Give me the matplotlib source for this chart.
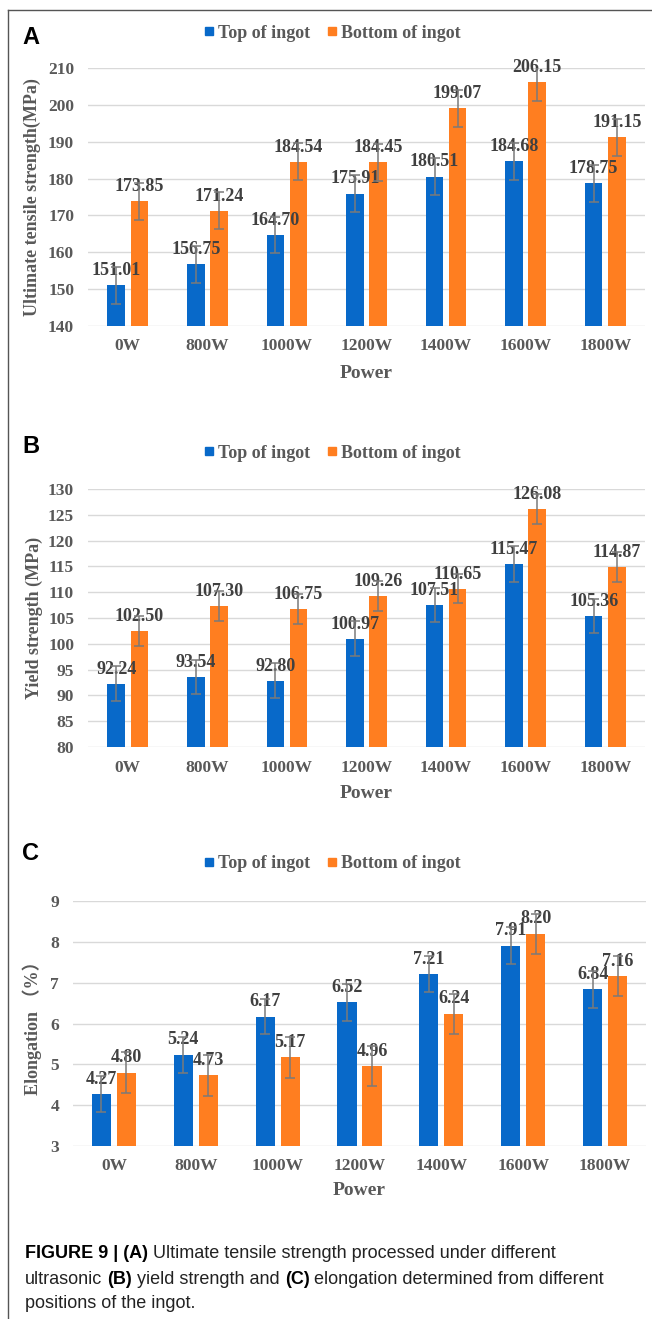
import numpy as np
import matplotlib.pyplot as plt
from matplotlib.lines import Line2D

powers = ["0W", "800W", "1000W", "1200W", "1400W", "1600W", "1800W"]

uts_top = [151.01, 156.75, 164.70, 175.91, 180.51, 184.68, 178.75]
uts_bottom = [173.85, 171.24, 184.54, 184.45, 199.07, 206.15, 191.15]
uts_top_err = [5.0, 5.0, 5.0, 5.0, 5.0, 5.0, 5.0]
uts_bottom_err = [5.0, 5.0, 5.0, 5.0, 5.0, 5.0, 5.0]

ys_top = [92.24, 93.54, 92.80, 100.97, 107.51, 115.47, 105.36]
ys_bottom = [102.50, 107.30, 106.75, 109.26, 110.65, 126.08, 114.87]
ys_top_err = [3.4, 3.3, 3.4, 3.4, 3.3, 3.5, 3.3]
ys_bottom_err = [2.9, 2.9, 2.9, 2.9, 2.8, 2.9, 2.9]

el_top = [4.27, 5.24, 6.17, 6.52, 7.21, 7.91, 6.84]
el_bottom = [4.80, 4.73, 5.17, 4.96, 6.24, 8.20, 7.16]
el_top_err = [0.44, 0.44, 0.42, 0.45, 0.44, 0.45, 0.45]
el_bottom_err = [0.49, 0.50, 0.50, 0.49, 0.49, 0.49, 0.49]

series_names = ["Top of ingot", "Bottom of ingot"]

BLUE = "#0869C9"
ORANGE = "#FF7E20"
GREY = "#595959"

plt.rcParams["font.family"] = ["Liberation Serif", "Noto Sans CJK SC"]
plt.rcParams["font.weight"] = "bold"
plt.rcParams["axes.labelweight"] = "bold"

W, H = 652, 1319
fig = plt.figure(figsize=(W / 100, H / 100), dpi=100)


def px_axes(left, right, top, bottom):
    return fig.add_axes([left / W, 1 - bottom / H, (right - left) / W, (bottom - top) / H])


def panel(ax, top, bottom, top_err, bottom_err, lo, hi, step, ylabel, ylab_x, bw):
    x = np.arange(len(powers))
    off = bw / 2 + 0.035
    ekw = dict(ecolor="#7a7a7a", elinewidth=1.1, capsize=3.5, capthick=1.1, zorder=5)
    ax.bar(x - off, top, bw, color=BLUE, yerr=top_err, error_kw=ekw, zorder=2)
    ax.bar(x + off, bottom, bw, color=ORANGE, yerr=bottom_err, error_kw=ekw, zorder=2)
    for xs, vals in ((x - off, top), (x + off, bottom)):
        for xi, v in zip(xs, vals):
            ax.annotate(f"{v:.2f}", (xi, v), xytext=(0, 4.5), textcoords="offset points",
                        ha="center", va="bottom", size=13, color="#404040", zorder=4,
                        annotation_clip=False)
    ax.set_xlim(-0.5, len(powers) - 0.5)
    ax.set_ylim(lo, hi)
    ax.set_yticks(np.arange(lo, hi + step / 2, step))
    ax.set_xticks(x)
    ax.set_xticklabels(powers)
    ax.yaxis.grid(True, color="#d9d9d9", lw=1)
    ax.set_axisbelow(True)
    for s in ax.spines.values():
        s.set_visible(False)
    ax.tick_params(length=0, labelsize=12.5, labelcolor=GREY)
    ax.tick_params(axis="y", pad=10)
    ax.tick_params(axis="x", pad=9)
    ax.set_xlabel("Power", size=14, color=GREY)
    ax.xaxis.set_label_coords(0.5, -47 / 258)
    ax.xaxis.label.set_va("center")
    ax.set_ylabel(ylabel, size=13, color=GREY)
    ax.yaxis.set_label_coords(ylab_x, 0.5)
    ax.yaxis.label.set_va("center")


def legend_and_letter(letter, y_letter, y_leg):
    fig.text(22 / W, 1 - y_letter / H, letter, family="Liberation Sans", weight="bold",
             size=17, va="center", ha="left", color="black")
    handles = [Line2D([], [], marker="s", ls="", color=c, markersize=5.5) for c in (BLUE, ORANGE)]
    fig.legend(handles, series_names, loc="center", bbox_to_anchor=(332 / W, 1 - y_leg / H),
               ncol=2, frameon=False, handlelength=0.6, handletextpad=0.2,
               columnspacing=0.9, labelcolor=GREY, prop=dict(size=13, weight="bold"))


axA = px_axes(88, 645, 68, 326)
panel(axA, uts_top, uts_bottom, uts_top_err, uts_bottom_err, 140, 210, 10,
      "Ultimate tensile strength(MPa)", -56 / 557, 0.22)
legend_and_letter("A", 38, 33)

axB = px_axes(88, 645, 489, 747)
panel(axB, ys_top, ys_bottom, ys_top_err, ys_bottom_err, 80, 130, 5,
      "Yield strength (MPa)", -54 / 557, 0.22)
legend_and_letter("B", 447, 453)

axC = px_axes(73, 646, 901, 1146)
panel(axC, el_top, el_bottom, el_top_err, el_bottom_err, 3, 9, 1,
      "Elongation （%）", -41 / 573, 0.235)
legend_and_letter("C", 853, 864)

# frame lines along the top and left edge
fig.add_artist(Line2D([8 / W, 1], [1 - 10 / H] * 2, transform=fig.transFigure, color="#555555", lw=1))
fig.add_artist(Line2D([8 / W] * 2, [0, 1 - 10 / H], transform=fig.transFigure, color="#555555", lw=1))

# caption with bold and regular runs
renderer = fig.canvas.get_renderer()
cap_kw = dict(family="Liberation Sans", size=13, va="baseline", ha="left")


def text_width(s, weight):
    t = fig.text(0, 0, s, weight=weight, **cap_kw)
    w = t.get_window_extent(renderer=renderer).width
    t.remove()
    return w


space = text_width("x x", "normal") - text_width("xx", "normal")


def caption_line(y, runs):
    x = 25.0
    for i, (s, weight) in enumerate(runs):
        if i > 0:
            x += space
        col = "black" if weight == "bold" else "#222222"
        t = fig.text(x / W, 1 - y / H, s, weight=weight, color=col, **cap_kw)
        x += t.get_window_extent(renderer=renderer).width


caption_line(1258, [("FIGURE 9 | (A)", "bold"),
                    ("Ultimate tensile strength processed under different", "normal")])
caption_line(1284, [("ultrasonic", "normal"), ("(B)", "bold"),
                    ("yield strength and", "normal"), ("(C)", "bold"),
                    ("elongation determined from different", "normal")])
caption_line(1308, [("positions of the ingot.", "normal")])

fig.savefig("out.png", dpi=100)
